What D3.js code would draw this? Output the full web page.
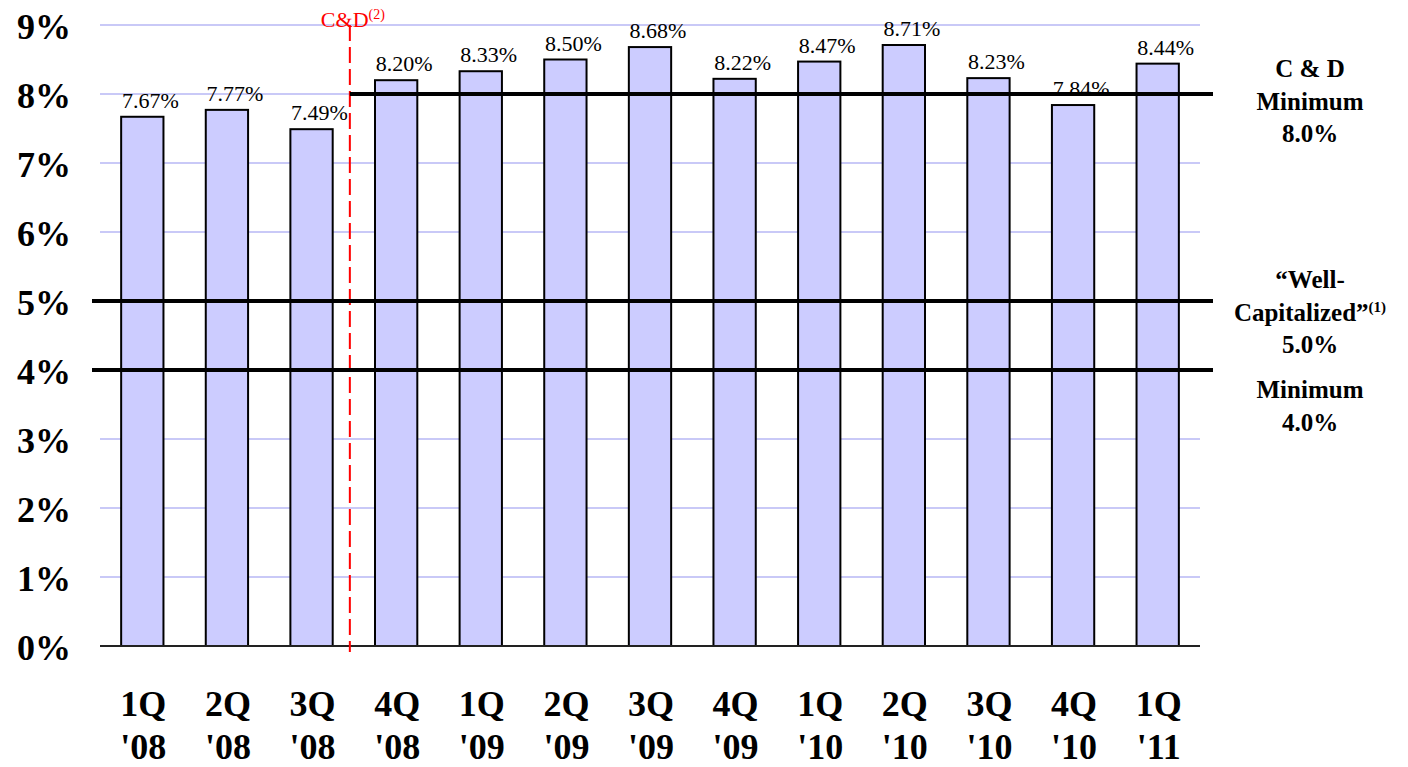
<!DOCTYPE html>
<html>
<head>
<meta charset="utf-8">
<script src="https://cdn.jsdelivr.net/npm/d3@7/dist/d3.min.js"></script>
<style>
  html, body { margin: 0; padding: 0; background: #fff; }
  svg { display: block; }
  svg text { font-family: "Liberation Serif", "Times New Roman", Times, serif; }
</style>
</head>
<body>
<svg id="chart" width="1408" height="767"></svg>
<script>
// Tier 1 leverage ratio by quarter
const quarters = ["1Q", "2Q", "3Q", "4Q", "1Q", "2Q", "3Q", "4Q", "1Q", "2Q", "3Q", "4Q", "1Q"];
const years = ["'08", "'08", "'08", "'08", "'09", "'09", "'09", "'09", "'10", "'10", "'10", "'10", "'11"];
const ratios = [7.67, 7.77, 7.49, 8.20, 8.33, 8.50, 8.68, 8.22, 8.47, 8.71, 8.23, 7.84, 8.44];
const yTicks = [0, 1, 2, 3, 4, 5, 6, 7, 8, 9];

// Regulatory thresholds
const thresholdValues = [8.0, 5.0, 4.0];
const thresholdLabels = [
  ["C & D", "Minimum", "8.0%"],
  ["\u201CWell-", "Capitalized\u201D", "5.0%"],
  ["Minimum", "4.0%"]
];
const orderIndex = 3; // first quarter under the C&D order

const svg = d3.select("#chart");
const ids = d3.range(ratios.length);

const x = d3.scaleBand().domain(ids).range([100, 1200]).paddingInner(0.5).paddingOuter(0.25);
const y = d3.scaleLinear().domain([0, 9]).range([646, 25]);

// Horizontal gridlines
svg.append("g").selectAll("line").data(yTicks.filter(d => d > 0)).join("line")
  .attr("x1", 100).attr("x2", 1200)
  .attr("y1", d => y(d)).attr("y2", d => y(d))
  .attr("stroke", "#c9c9f7").attr("stroke-width", 2);

// Y axis labels
svg.append("g").selectAll("text").data(yTicks).join("text")
  .attr("x", 71).attr("y", d => y(d) + 2)
  .attr("text-anchor", "end").attr("dominant-baseline", "central")
  .attr("font-size", 36).attr("font-weight", "bold").attr("fill", "#000")
  .text(d => d + "%");

// Bars
svg.append("g").selectAll("rect").data(ids).join("rect")
  .attr("x", i => x(i)).attr("width", x.bandwidth())
  .attr("y", i => y(ratios[i])).attr("height", i => y(0) - y(ratios[i]))
  .attr("fill", "#ccccff").attr("stroke", "#000").attr("stroke-width", 2);

// Value labels
svg.append("g").selectAll("text").data(ids).join("text")
  .attr("x", i => x(i) + x.bandwidth() / 2 + 8)
  .attr("y", i => y(ratios[i]) - 9)
  .attr("text-anchor", "middle").attr("font-size", 22).attr("fill", "#000")
  .text(i => ratios[i].toFixed(2) + "%");

// Baseline
svg.append("line")
  .attr("x1", 100).attr("x2", 1200).attr("y1", y(0)).attr("y2", y(0))
  .attr("stroke", "#222").attr("stroke-width", 2);

// C&D order marker
const orderX = x(orderIndex) - (x.step() - x.bandwidth()) / 2 - 4;
svg.append("line")
  .attr("x1", orderX).attr("x2", orderX).attr("y1", y(9)).attr("y2", y(0) + 6)
  .attr("stroke", "#ff0000").attr("stroke-width", 2).attr("stroke-dasharray", "16,6");
const cd = svg.append("text")
  .attr("x", orderX - 29).attr("y", 27)
  .attr("font-size", 22).attr("fill", "#ff0000");
cd.append("tspan").text("C&D");
cd.append("tspan").attr("font-size", 14).attr("dy", -8).text("(2)");

// Threshold lines
svg.append("g").selectAll("line").data(thresholdValues).join("line")
  .attr("x1", (d, i) => i === 0 ? orderX : 92).attr("x2", 1213)
  .attr("y1", d => y(d)).attr("y2", d => y(d))
  .attr("stroke", "#000").attr("stroke-width", 4);

// Threshold labels
const labelTops = [77, 288, 398];
thresholdLabels.forEach((lines, k) => {
  const t = svg.append("text")
    .attr("text-anchor", "middle").attr("font-size", 25).attr("font-weight", "bold").attr("fill", "#000");
  lines.forEach((s, j) => {
    t.append("tspan").attr("x", 1310).attr("y", labelTops[k] + j * 32.5).text(s);
    if (k === 1 && j === 1) {
      t.append("tspan").attr("font-size", 15).attr("dy", -9).text("(1)");
    }
  });
});

// Category labels
const xl = svg.append("g").selectAll("text").data(ids).join("text")
  .attr("text-anchor", "middle").attr("font-size", 36).attr("font-weight", "bold").attr("fill", "#000");
xl.append("tspan").attr("x", i => x(i) + x.bandwidth() / 2 + 1).attr("y", 716).text(i => quarters[i]);
xl.append("tspan").attr("x", i => x(i) + x.bandwidth() / 2 + 1).attr("y", 759).text(i => years[i]);
</script>
</body>
</html>
